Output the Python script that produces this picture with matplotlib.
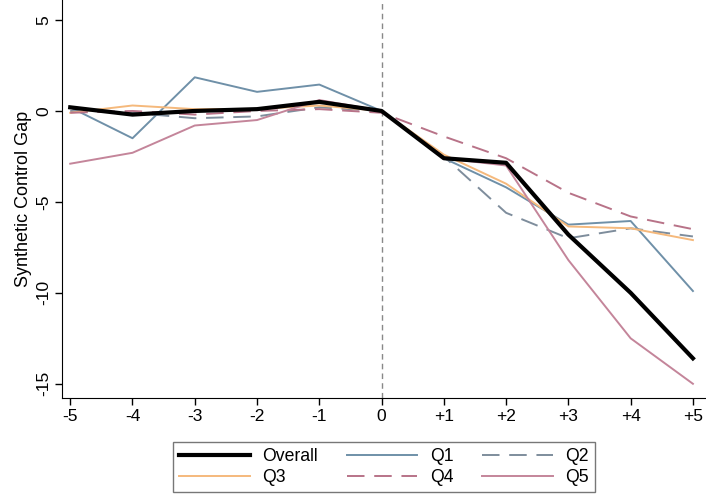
import matplotlib
matplotlib.use("Agg")
import matplotlib.pyplot as plt

plt.rcParams['font.family'] = ['Liberation Sans', 'DejaVu Sans']

periods = [-5, -4, -3, -2, -1, 0, 1, 2, 3, 4, 5]
tick_labels = ['-5', '-4', '-3', '-2', '-1', '0', '+1', '+2', '+3', '+4', '+5']

overall = [0.2, -0.2, 0.0, 0.1, 0.5, 0.0, -2.6, -2.85, -6.8, -10.0, -13.6]
q1 = [0.2, -1.5, 1.85, 1.05, 1.45, 0.0, -2.6, -4.2, -6.25, -6.05, -9.9]
q2 = [0.0, -0.1, -0.4, -0.3, 0.2, 0.0, -2.5, -5.6, -7.0, -6.45, -6.9]
q3 = [-0.1, 0.3, 0.1, 0.1, 0.3, 0.0, -2.4, -4.0, -6.35, -6.45, -7.1]
q4 = [-0.1, 0.0, -0.2, 0.0, 0.1, -0.1, -1.4, -2.6, -4.5, -5.8, -6.5]
q5 = [-2.9, -2.3, -0.8, -0.5, 0.6, 0.0, -2.6, -3.0, -8.2, -12.5, -15.0]

fig = plt.figure(figsize=(7.06, 5.01), dpi=100)
ax = fig.add_axes([0.088, 0.206, 0.912, 0.794])

ax.axvline(0, color='#888888', linestyle=(0, (4, 3)), linewidth=1, zorder=1)

ax.plot(periods, q1, color='#6f90a8', linewidth=1.4, label='Q1', zorder=2)
ax.plot(periods, q2, color='#7e8d9c', linewidth=1.4, linestyle=(0, (9, 5)), label='Q2', zorder=2)
ax.plot(periods, q3, color='#f5b97c', linewidth=1.4, label='Q3', zorder=2)
ax.plot(periods, q4, color='#b87388', linewidth=1.4, linestyle=(0, (9, 5)), label='Q4', zorder=2)
ax.plot(periods, q5, color='#c4859a', linewidth=1.4, label='Q5', zorder=2)
ax.plot(periods, overall, color='black', linewidth=3, label='Overall', zorder=3)

ax.set_xlim(-5.13, 5.21)
ax.set_ylim(-15.77, 6.1)
ax.set_xticks(periods)
ax.set_xticklabels(tick_labels, fontsize=12.5)
ax.set_yticks([5, 0, -5, -10, -15])
ax.set_yticklabels(['5', '0', '-5', '-10', '-15'], fontsize=12.5, rotation=90, va='center')
ax.set_ylabel('Synthetic Control Gap', fontsize=13, labelpad=3)
ax.spines['top'].set_visible(False)
ax.spines['right'].set_visible(False)
ax.tick_params(direction='out', length=5, width=1, pad=3)

handles, labels = ax.get_legend_handles_labels()
hmap = dict(zip(labels, handles))
# column-major order for ncol=3 so rows read Overall Q1 Q2 / Q3 Q4 Q5
col_order = ['Overall', 'Q3', 'Q1', 'Q4', 'Q2', 'Q5']
leg = fig.legend([hmap[l] for l in col_order], col_order, loc='lower center',
                 bbox_to_anchor=(0.544, 0.0), ncol=3, fontsize=12.7,
                 handlelength=4.0, columnspacing=1.65, handletextpad=0.7,
                 labelspacing=0.2, frameon=True, fancybox=False, borderpad=0.35)
leg.get_frame().set_edgecolor('#555555')
leg.get_frame().set_linewidth(1)

fig.savefig('out.png', dpi=100)
